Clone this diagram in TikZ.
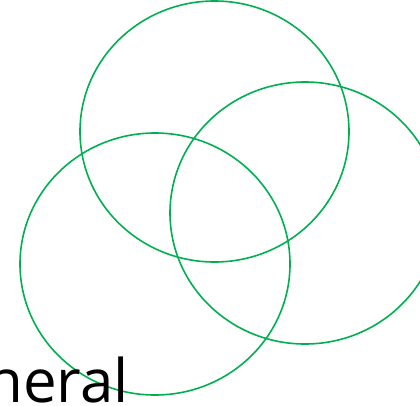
\documentclass[tikz,border=0pt]{standalone}
\usepackage{fontspec}
\setmainfont{Open Sans}
\usepackage{xcolor}
\definecolor{vennGreen}{RGB}{0,176,80}
\begin{document}
\begin{tikzpicture}[x=1pt, y=-1pt]
    \tikzset{venn/.style={draw=vennGreen, line width=1.6pt}}
    \useasboundingbox (0,0) rectangle (420,405);
    \clip (0,0) rectangle (420,405);
    
    % Three overlapping sets
    \draw[venn] (214.5,131.5) ellipse [x radius=134.5pt, y radius=130.5pt];
    \draw[venn] (155,264) ellipse [x radius=135pt, y radius=131pt];
    \draw[venn] (305,213) ellipse [x radius=135pt, y radius=131pt];
    
    % Label, cut at the left edge
    \node[anchor=base east, inner sep=0pt, font=\fontsize{60}{60}\selectfont] (label) at (129,402) {General};
\end{tikzpicture}
\end{document}
